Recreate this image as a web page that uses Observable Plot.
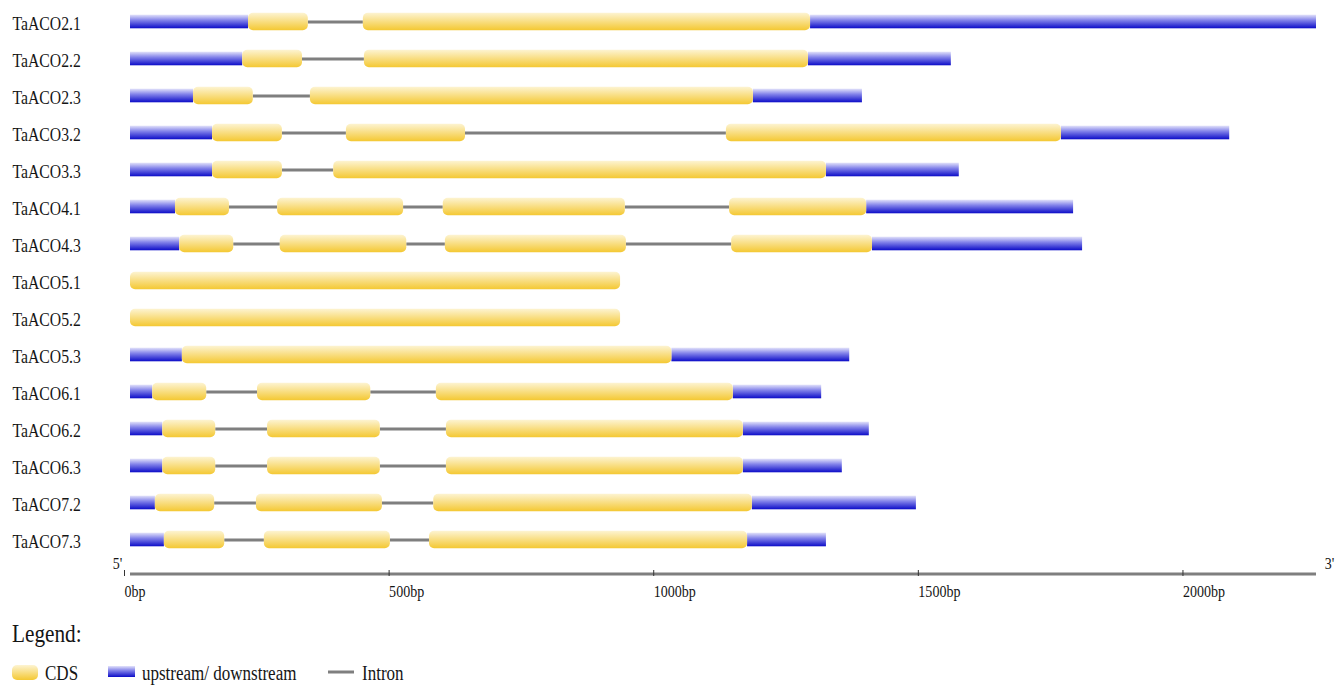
<!DOCTYPE html>
<html><head><meta charset="utf-8">
<script src="https://cdn.jsdelivr.net/npm/d3@7"></script>
<script src="https://cdn.jsdelivr.net/npm/@observablehq/plot@0.6"></script>
<style>
body{margin:0;background:#fff;}
svg text{font-family:"Liberation Serif",serif !important;}
</style>
</head><body><div id="chart"></div>
<script>
const genes = ["TaACO2.1","TaACO2.2","TaACO2.3","TaACO3.2","TaACO3.3","TaACO4.1","TaACO4.3","TaACO5.1","TaACO5.2","TaACO5.3","TaACO6.1","TaACO6.2","TaACO6.3","TaACO7.2","TaACO7.3"];
const geneLengths = [2241, 1551, 1383, 2077, 1566, 1782, 1799, 926, 926, 1359, 1306, 1396, 1345, 1485, 1315];
const cdsExons = [
  [[223,336],[440,1285]],
  [[212,325],[442,1281]],
  [[119,232],[340,1177]],
  [[155,287],[408,633],[1126,1759]],
  [[155,287],[384,1315]],
  [[85,187],[278,516],[591,935],[1132,1391]],
  [[93,195],[283,522],[595,937],[1136,1402]],
  [[0,926]],
  [[0,926]],
  [[98,1023]],
  [[42,144],[240,454],[578,1139]],
  [[61,161],[259,472],[597,1158]],
  [[61,161],[259,472],[597,1158]],
  [[47,159],[238,476],[573,1175]],
  [[64,178],[253,491],[565,1166]]
];
const tickValues = [0, 500, 1000, 1500, 2000];
const legendTitle = "Legend:";
const legendLabels = ["CDS", "upstream/ downstream", "Intron"];

const cds = [], utr = [], introns = [];
genes.forEach((g, i) => {
  const ex = cdsExons[i];
  ex.forEach(([s, e]) => cds.push({gene: g, start: s, end: e}));
  if (ex[0][0] > 0) utr.push({gene: g, start: 0, end: ex[0][0]});
  const last = ex[ex.length - 1][1];
  if (geneLengths[i] > last) utr.push({gene: g, start: last, end: geneLengths[i]});
  for (let k = 1; k < ex.length; k++) introns.push({gene: g, start: ex[k-1][1], end: ex[k][0]});
});
const maxLen = d3.max(geneLengths);
const SERIF = "'Liberation Serif', serif";

function gradientDefs() {
  const d = d3.create("svg:defs");
  const g1 = d.append("linearGradient").attr("id", "cdsGrad").attr("x1", 0).attr("y1", 0).attr("x2", 0).attr("y2", 1);
  g1.append("stop").attr("offset", "0%").attr("stop-color", "#fdf4d2");
  g1.append("stop").attr("offset", "45%").attr("stop-color", "#f9e08a");
  g1.append("stop").attr("offset", "100%").attr("stop-color", "#f4c832");
  const g2 = d.append("linearGradient").attr("id", "utrGrad").attr("x1", 0).attr("y1", 0).attr("x2", 0).attr("y2", 1);
  g2.append("stop").attr("offset", "0%").attr("stop-color", "#e2e2fa");
  g2.append("stop").attr("offset", "40%").attr("stop-color", "#8484ea");
  g2.append("stop").attr("offset", "100%").attr("stop-color", "#0c0cc8");
  return d.node();
}

const plot = Plot.plot({
  width: 1340, height: 605,
  marginLeft: 130, marginRight: 24, marginTop: 0, marginBottom: 35,
  x: {domain: [0, maxLen], axis: null},
  y: {domain: genes, range: [0.3, 561.3], padding: 0, axis: null},
  style: {background: "transparent", fontFamily: SERIF},
  marks: [
    gradientDefs,
    Plot.ruleY(introns, {y: "gene", x1: "start", x2: "end", stroke: "#7f7f7f", strokeWidth: 3}),
    Plot.barX(utr, {y: "gene", x1: "start", x2: "end", fill: "url(#utrGrad)", insetTop: 11.7, insetBottom: 11.7}),
    Plot.barX(cds, {y: "gene", x1: "start", x2: "end", fill: "url(#cdsGrad)", insetTop: 9.7, insetBottom: 9.7, rx: 5}),
    Plot.text(genes, {y: d => d, text: d => d, frameAnchor: "left", textAnchor: "start", dx: -118, dy: 2, fontSize: 18.5, fill: "#151515"}),
    Plot.ruleY([genes[genes.length - 1]], {x1: 0, x2: maxLen, dy: 34, stroke: "#7f7f7f", strokeWidth: 3}),
    Plot.axisX({anchor: "bottom", ticks: tickValues, tickSize: 6, tickPadding: 9, tickFormat: d => d + "bp", textAnchor: "start", dx: -6, fontSize: 16.5, stroke: "#333", fill: "#151515"}),
    Plot.text([0], {x: d => d, text: () => "5'", frameAnchor: "bottom", lineAnchor: "middle", dx: -13, dy: -7, fontSize: 16.5, fill: "#151515"}),
    Plot.text([maxLen], {x: d => d, text: () => "3'", frameAnchor: "bottom", lineAnchor: "middle", dx: 13, dy: -7, fontSize: 16.5, fill: "#151515"})
  ]
});
const chart = document.getElementById("chart");
chart.appendChild(plot);

// Legend below the plot
const leg = d3.select(chart).append("svg").attr("width", 1340).attr("height", 80).style("display", "block");
leg.append("text").attr("x", 12).attr("y", 37).attr("font-size", 25).attr("fill", "#151515").text(legendTitle);
leg.append("rect").attr("x", 12).attr("y", 60).attr("width", 26).attr("height", 15).attr("rx", 5).attr("fill", "url(#cdsGrad)");
leg.append("text").attr("x", 45).attr("y", 75).attr("font-size", 20).attr("fill", "#151515").text(legendLabels[0]);
leg.append("rect").attr("x", 108).attr("y", 61).attr("width", 27).attr("height", 11).attr("fill", "url(#utrGrad)");
leg.append("text").attr("x", 142).attr("y", 75).attr("font-size", 20).attr("fill", "#151515").text(legendLabels[1]);
leg.append("line").attr("x1", 328).attr("x2", 354).attr("y1", 67).attr("y2", 67).attr("stroke", "#7f7f7f").attr("stroke-width", 3);
leg.append("text").attr("x", 362).attr("y", 75).attr("font-size", 20).attr("fill", "#151515").text(legendLabels[2]);

// serif font and horizontal condensing like the reference
d3.select(chart).selectAll("text").each(function() {
  this.style.fontFamily = SERIF;
  this.setAttribute("font-family", SERIF);
  const len = this.getComputedTextLength();
  if (len > 0) {
    this.setAttribute("textLength", (len * 0.85).toFixed(1));
    this.setAttribute("lengthAdjust", "spacingAndGlyphs");
  }
});
</script>
</body></html>
